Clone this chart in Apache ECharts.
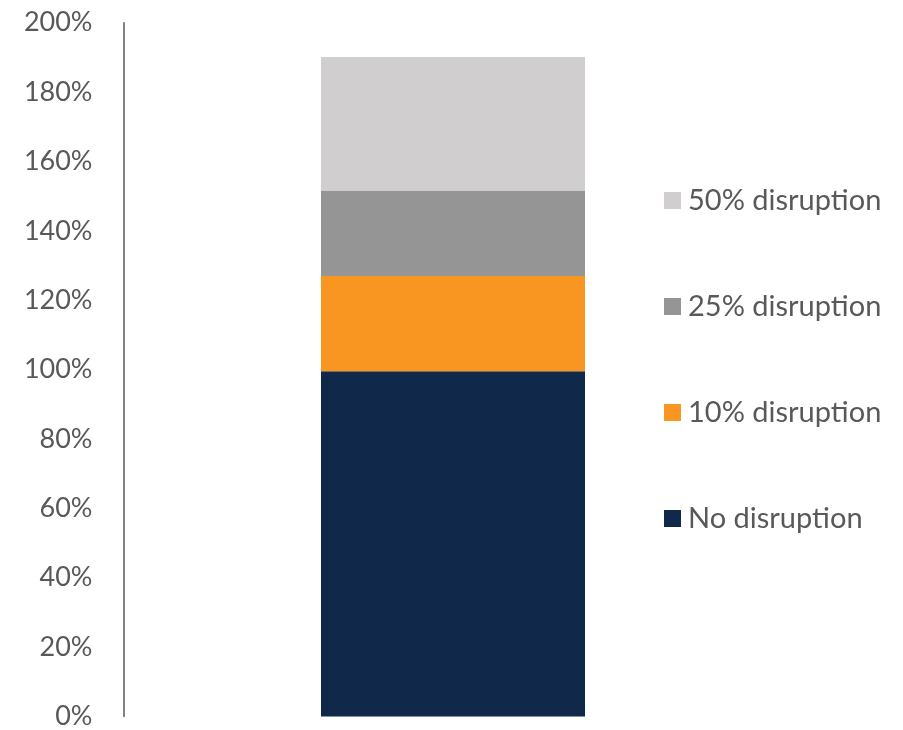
<!DOCTYPE html>
<html>
<head>
<meta charset="utf-8">
<script src="https://cdn.jsdelivr.net/npm/echarts@6/dist/echarts.min.js"></script>
<style>html,body{margin:0;padding:0;background:#fff;overflow:hidden}#c{width:903px;height:730px}</style>
</head>
<body>
<div id="c"></div>
<script>
var categories = ['Scenario'];
var seriesNames = ['No disruption', '10% disruption', '25% disruption', '50% disruption'];
var noDisruption = [99.5];
var disruption10 = [27.5];
var disruption25 = [24.6];
var disruption50 = [38.5];
var yTicks = { min: 0, max: 200, interval: 20 };

var colors = ['#10284A', '#F89621', '#959595', '#D0CECF'];
var values = [noDisruption, disruption10, disruption25, disruption50];
var font = 'Lato, "Open Sans", sans-serif';

var chart = echarts.init(document.getElementById('c'));
chart.setOption({
  animation: false,
  grid: { left: 123.5, right: 120.5, top: 22.7, bottom: 9, containLabel: false },
  legend: {
    orient: 'vertical',
    left: 659,
    top: 181,
    itemWidth: 17,
    itemHeight: 17,
    itemGap: 77,
    icon: 'rect',
    data: ['50% disruption', '25% disruption', '10% disruption', 'No disruption'],
    textStyle: { fontFamily: font, fontSize: 29, color: '#595959', padding: [0, 0, 0, 2] }
  },
  xAxis: {
    type: 'category',
    data: categories,
    axisLine: { show: false },
    axisTick: { show: false },
    axisLabel: { show: false }
  },
  yAxis: {
    type: 'value',
    min: yTicks.min,
    max: yTicks.max,
    interval: yTicks.interval,
    axisLine: { show: true, lineStyle: { color: '#595959', width: 1.5 } },
    axisTick: { show: false },
    splitLine: { show: false },
    axisLabel: {
      formatter: '{value}%',
      fontFamily: font,
      fontSize: 27,
      color: '#595959',
      margin: 31
    }
  },
  series: seriesNames.map(function (n, i) {
    return {
      name: n,
      type: 'bar',
      stack: 'total',
      barWidth: 264,
      data: values[i],
      itemStyle: { color: colors[i] }
    };
  })
});
</script>
</body>
</html>
